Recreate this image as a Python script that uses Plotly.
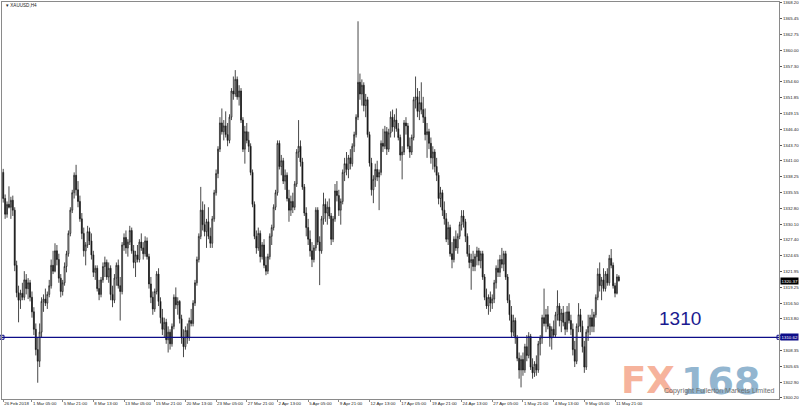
import plotly.graph_objects as go

# ---------------- data (XAUUSD, H4) ----------------
OPEN = [
1339.0,1334.5,1331.8,1333.5,1333.0,1334.2,1332.5,1323.0,1318.3,1317.0,
1318.2,1317.5,1320.5,1319.0,1320.0,1317.5,1315.0,1312.0,1308.5,1306.5,
1311.5,1316.8,1317.2,1316.5,1318.0,1319.5,1323.0,1322.0,1325.5,1324.0,
1320.8,1318.5,1320.0,1322.8,1325.0,1328.5,1332.5,1335.5,1338.5,1336.0,
1334.0,1331.0,1328.5,1325.5,1326.5,1328.8,1327.2,1324.8,1321.8,1322.5,
1319.0,1318.0,1320.5,1322.8,1323.5,1321.0,1322.5,1318.0,1317.0,1320.8,
1323.0,1319.5,1318.5,1326.5,1327.8,1326.0,1327.0,1329.0,1325.5,1323.5,
1324.8,1324.0,1327.0,1326.0,1325.0,1327.2,1324.5,1319.8,1317.5,1315.5,
1318.5,1321.5,1316.8,1314.0,1312.0,1313.2,1310.2,1311.5,1309.5,1312.5,
1317.5,1316.2,1316.8,1313.8,1310.5,1309.0,1311.8,1310.5,1313.5,1313.0,
1316.5,1320.0,1324.0,1328.0,1332.5,1330.0,1328.8,1330.5,1328.0,1326.8,
1331.0,1335.5,1338.8,1343.0,1347.5,1346.0,1347.0,1345.5,1344.5,1348.5,
1353.0,1352.5,1355.0,1352.0,1353.0,1348.0,1343.0,1346.0,1344.5,1343.5,
1339.0,1333.5,1328.0,1326.0,1328.5,1324.5,1326.5,1323.0,1322.0,1324.5,
1328.0,1329.5,1333.0,1335.5,1344.0,1340.0,1341.0,1337.5,1338.5,1334.5,
1332.5,1334.0,1333.0,1337.0,1342.5,1343.5,1340.8,1336.5,1332.0,1329.5,
1327.5,1325.5,1324.0,1326.0,1332.5,1327.0,1325.5,1331.0,1333.5,1332.0,
1333.0,1331.5,1327.5,1331.0,1335.8,1335.0,1332.5,1334.0,1339.0,1340.5,
1339.5,1341.5,1340.5,1343.5,1345.5,1348.5,1354.5,1352.5,1354.0,1350.5,
1351.5,1345.5,1340.6,1336.0,1337.8,1339.5,1338.2,1339.0,1344.0,1343.5,
1346.0,1343.0,1345.8,1348.5,1346.8,1348.0,1346.5,1345.0,1342.0,1342.5,
1347.5,1347.0,1343.5,1342.5,1345.0,1351.5,1352.0,1349.5,1351.0,1349.8,
1348.5,1345.5,1346.0,1344.0,1341.5,1342.5,1340.0,1338.5,1334.5,1335.5,
1332.5,1331.0,1327.5,1329.5,1325.0,1324.0,1327.5,1326.0,1328.0,1330.0,
1331.5,1330.5,1328.0,1325.0,1323.5,1324.0,1322.8,1324.5,1325.5,1323.8,
1325.0,1321.0,1317.5,1316.0,1317.5,1316.5,1317.2,1320.0,1322.5,1321.8,
1324.0,1323.2,1325.0,1321.0,1317.0,1314.5,1311.5,1313.5,1310.5,1307.0,
1305.0,1306.8,1305.0,1309.0,1307.5,1310.8,1305.5,1304.5,1306.0,1305.0,
1309.5,1310.5,1314.0,1313.0,1314.5,1312.5,1310.5,1312.0,1311.0,1314.5,
1316.0,1313.5,1314.8,1313.2,1312.0,1315.0,1313.5,1312.0,1308.5,1306.5,
1312.5,1314.5,1312.5,1309.0,1305.5,1311.5,1312.5,1314.0,1312.5,1314.5,
1317.5,1321.5,1319.5,1320.5,1319.0,1321.5,1320.0,1324.2,1323.0,1319.5,
1318.2,1321.0]

HIGH = [
1339.6,1335.2,1334.0,1336.6,1334.8,1335.0,1333.0,1323.8,1319.5,1318.8,
1320.0,1322.0,1321.5,1320.8,1320.5,1318.5,1315.8,1313.0,1310.5,1313.0,
1317.5,1318.0,1319.0,1318.5,1320.5,1324.0,1325.5,1326.8,1326.5,1325.0,
1321.5,1320.5,1323.5,1325.5,1329.0,1333.0,1336.0,1339.0,1340.3,1337.5,
1335.0,1332.0,1329.5,1327.0,1329.8,1329.5,1328.5,1325.5,1323.0,1323.0,
1320.5,1321.0,1323.5,1324.5,1324.0,1323.5,1323.0,1319.5,1321.5,1323.5,
1324.0,1321.0,1327.0,1328.5,1329.0,1327.5,1329.8,1329.5,1326.5,1325.5,
1326.5,1327.5,1328.5,1327.0,1328.0,1327.8,1325.0,1321.0,1318.5,1319.0,
1322.0,1322.5,1317.5,1315.5,1314.0,1313.8,1312.5,1312.0,1313.0,1318.0,
1319.2,1317.5,1317.0,1314.5,1312.0,1312.5,1313.0,1314.0,1315.5,1317.0,
1320.5,1324.5,1328.5,1336.5,1334.0,1333.5,1331.0,1333.0,1329.5,1331.5,
1336.0,1339.5,1343.5,1348.5,1350.0,1348.0,1349.5,1347.5,1349.0,1353.5,
1355.5,1356.6,1355.5,1354.0,1353.5,1348.5,1347.0,1347.5,1346.0,1344.0,
1339.5,1334.0,1329.0,1329.5,1329.0,1327.0,1327.5,1324.5,1325.0,1328.5,
1330.0,1333.5,1336.0,1344.5,1344.5,1342.0,1341.5,1339.5,1339.0,1336.0,
1335.0,1335.5,1337.5,1343.0,1348.0,1344.5,1341.5,1337.0,1333.0,1331.0,
1329.0,1327.0,1326.5,1333.0,1333.0,1328.0,1331.5,1335.5,1334.5,1334.0,
1334.5,1332.0,1331.5,1337.0,1337.5,1336.0,1334.5,1339.5,1341.5,1342.5,
1342.0,1343.0,1344.0,1346.0,1349.0,1365.0,1356.0,1355.0,1354.5,1352.5,
1352.0,1346.0,1341.5,1338.5,1340.5,1341.0,1339.5,1344.5,1346.5,1347.0,
1346.8,1346.5,1349.5,1349.8,1349.0,1350.0,1347.5,1345.5,1343.5,1348.0,
1348.5,1347.5,1345.0,1345.5,1352.0,1355.5,1353.5,1353.0,1354.5,1352.0,
1350.0,1347.5,1346.5,1345.0,1343.5,1343.0,1341.5,1339.0,1336.5,1336.0,
1334.0,1332.0,1330.5,1330.0,1327.0,1328.0,1329.0,1328.5,1330.5,1332.5,
1332.5,1331.0,1328.5,1326.5,1325.0,1325.5,1325.0,1326.2,1326.0,1325.5,
1325.5,1321.5,1319.0,1318.0,1318.5,1318.0,1320.5,1323.0,1324.0,1324.8,
1326.0,1325.5,1325.5,1321.5,1318.0,1316.0,1314.5,1314.0,1311.0,1308.0,
1307.5,1308.0,1309.5,1311.0,1311.5,1311.2,1307.0,1306.5,1307.5,1310.0,
1311.0,1314.5,1319.0,1315.5,1316.0,1313.0,1312.5,1313.5,1315.0,1318.7,
1316.5,1315.5,1316.0,1315.0,1316.0,1316.5,1314.5,1313.0,1310.0,1313.0,
1316.5,1315.5,1313.5,1310.0,1312.0,1314.5,1314.5,1315.5,1315.0,1318.0,
1322.5,1323.5,1321.0,1322.5,1322.0,1322.5,1324.8,1325.8,1323.5,1320.0,
1321.5,1321.3]

LOW = [
1333.8,1331.0,1331.2,1332.8,1331.0,1331.5,1322.0,1317.5,1313.2,1315.5,
1317.0,1317.0,1318.0,1317.2,1316.8,1314.0,1311.0,1307.5,1302.8,1305.5,
1310.5,1315.0,1316.0,1315.5,1317.5,1319.0,1321.5,1321.8,1323.0,1320.0,
1317.5,1317.8,1319.5,1321.8,1324.5,1328.0,1332.0,1334.5,1335.0,1333.0,
1330.5,1327.5,1324.5,1323.0,1326.0,1326.5,1324.0,1321.0,1320.5,1318.5,
1317.0,1317.5,1320.0,1321.0,1320.5,1320.0,1317.0,1315.8,1316.5,1319.5,
1319.0,1313.5,1318.0,1325.5,1325.0,1324.5,1326.5,1325.0,1322.5,1321.0,
1323.5,1323.5,1325.5,1324.0,1324.5,1324.0,1319.0,1316.5,1314.5,1315.0,
1318.0,1316.0,1313.0,1311.0,1310.5,1309.5,1308.0,1308.5,1309.0,1312.0,
1315.5,1314.5,1313.0,1309.5,1307.2,1308.5,1309.5,1310.0,1312.5,1312.5,
1316.0,1319.5,1323.5,1327.5,1329.0,1328.0,1326.0,1327.5,1326.0,1326.0,
1330.5,1335.0,1338.0,1342.5,1345.5,1344.5,1345.0,1343.5,1344.0,1348.0,
1351.5,1352.0,1351.5,1350.5,1347.5,1342.5,1340.5,1344.0,1342.5,1338.5,
1333.0,1327.5,1325.0,1325.5,1323.5,1324.0,1322.5,1321.3,1321.5,1324.0,
1326.5,1329.0,1332.5,1335.0,1339.5,1338.5,1337.0,1336.0,1334.0,1330.5,
1331.5,1332.0,1332.5,1336.5,1341.5,1340.0,1336.0,1331.5,1328.0,1326.5,
1324.5,1322.7,1323.5,1325.5,1326.5,1319.6,1325.0,1330.0,1330.5,1330.0,
1331.0,1326.5,1327.0,1330.5,1334.0,1331.5,1330.0,1333.5,1337.5,1338.5,
1338.0,1339.5,1340.0,1342.5,1345.0,1348.0,1351.5,1350.5,1349.5,1348.5,
1345.0,1340.0,1335.0,1333.7,1336.5,1337.5,1332.5,1338.5,1342.5,1343.0,
1342.0,1342.5,1345.0,1346.0,1345.0,1346.0,1344.5,1341.0,1337.8,1342.0,
1345.5,1343.0,1341.5,1342.0,1344.5,1350.0,1348.5,1348.0,1349.0,1347.5,
1344.5,1341.5,1343.0,1340.5,1339.5,1339.0,1337.5,1333.5,1333.0,1331.5,
1330.0,1327.0,1326.5,1324.5,1322.5,1323.5,1325.5,1325.0,1327.5,1329.0,
1329.5,1327.0,1324.5,1322.5,1318.8,1322.0,1322.0,1323.0,1323.0,1322.5,
1320.5,1317.0,1315.5,1314.5,1315.0,1315.5,1316.5,1319.0,1321.0,1321.0,
1322.5,1322.0,1320.5,1316.5,1313.5,1310.5,1310.8,1309.5,1306.5,1303.5,
1302.0,1304.0,1304.5,1306.5,1307.0,1305.0,1303.5,1303.8,1304.0,1304.5,
1307.5,1309.5,1312.5,1311.5,1312.0,1309.0,1308.5,1310.5,1310.5,1313.5,
1312.5,1311.5,1312.5,1311.0,1311.5,1313.0,1311.0,1307.5,1305.5,1306.0,
1311.5,1311.5,1308.0,1304.5,1305.0,1310.0,1311.0,1311.5,1311.5,1314.0,
1317.0,1318.5,1317.0,1318.5,1318.5,1319.5,1319.5,1322.5,1319.0,1317.5,
1318.0,1320.2]

CLOSE = [
1334.5,1331.8,1333.5,1333.0,1334.2,1332.5,1323.0,1318.3,1317.0,1318.2,
1317.5,1320.5,1319.0,1320.0,1317.5,1315.0,1312.0,1308.5,1306.5,1311.5,
1316.8,1317.2,1316.5,1318.0,1319.5,1323.0,1322.0,1325.5,1324.0,1320.8,
1318.5,1320.0,1322.8,1325.0,1328.5,1332.5,1335.5,1338.5,1336.0,1334.0,
1331.0,1328.5,1325.5,1326.5,1328.8,1327.2,1324.8,1321.8,1322.5,1319.0,
1318.0,1320.5,1322.8,1323.5,1321.0,1322.5,1318.0,1317.0,1320.8,1323.0,
1319.5,1318.5,1326.5,1327.8,1326.0,1327.0,1329.0,1325.5,1323.5,1324.8,
1324.0,1327.0,1326.0,1325.0,1327.2,1324.5,1319.8,1317.5,1315.5,1318.5,
1321.5,1316.8,1314.0,1312.0,1313.2,1310.2,1311.5,1309.5,1312.5,1317.5,
1316.2,1316.8,1313.8,1310.5,1309.0,1311.8,1310.5,1313.5,1313.0,1316.5,
1320.0,1324.0,1328.0,1332.5,1330.0,1328.8,1330.5,1328.0,1326.8,1331.0,
1335.5,1338.8,1343.0,1347.5,1346.0,1347.0,1345.5,1344.5,1348.5,1353.0,
1352.5,1355.0,1352.0,1353.0,1348.0,1343.0,1346.0,1344.5,1343.5,1339.0,
1333.5,1328.0,1326.0,1328.5,1324.5,1326.5,1323.0,1322.0,1324.5,1328.0,
1329.5,1333.0,1335.5,1344.0,1340.0,1341.0,1337.5,1338.5,1334.5,1332.5,
1334.0,1333.0,1337.0,1342.5,1343.5,1340.8,1336.5,1332.0,1329.5,1327.5,
1325.5,1324.0,1326.0,1332.5,1327.0,1325.5,1331.0,1333.5,1332.0,1333.0,
1331.5,1327.5,1331.0,1335.8,1335.0,1332.5,1334.0,1339.0,1340.5,1339.5,
1341.5,1340.5,1343.5,1345.5,1348.5,1354.5,1352.5,1354.0,1350.5,1351.5,
1345.5,1340.6,1336.0,1337.8,1339.5,1338.2,1339.0,1344.0,1343.5,1346.0,
1343.0,1345.8,1348.5,1346.8,1348.0,1346.5,1345.0,1342.0,1342.5,1347.5,
1347.0,1343.5,1342.5,1345.0,1351.5,1352.0,1349.5,1351.0,1349.8,1348.5,
1345.5,1346.0,1344.0,1341.5,1342.5,1340.0,1338.5,1334.5,1335.5,1332.5,
1331.0,1327.5,1329.5,1325.0,1324.0,1327.5,1326.0,1328.0,1330.0,1331.5,
1330.5,1328.0,1325.0,1323.5,1324.0,1322.8,1324.5,1325.5,1323.8,1325.0,
1321.0,1317.5,1316.0,1317.5,1316.5,1317.2,1320.0,1322.5,1321.8,1324.0,
1323.2,1325.0,1321.0,1317.0,1314.5,1311.5,1313.5,1310.5,1307.0,1305.0,
1306.8,1305.0,1309.0,1307.5,1310.8,1305.5,1304.5,1306.0,1305.0,1309.5,
1310.5,1314.0,1313.0,1314.5,1312.5,1310.5,1312.0,1311.0,1314.5,1316.0,
1313.5,1314.8,1313.2,1312.0,1315.0,1313.5,1312.0,1308.5,1306.5,1312.5,
1314.5,1312.5,1309.0,1305.5,1311.5,1312.5,1314.0,1312.5,1314.5,1317.5,
1321.5,1319.5,1320.5,1319.0,1321.5,1320.0,1324.2,1323.0,1319.5,1318.2,
1321.0,1320.37]

X_LABEL_BARS = [0, 15, 31, 47, 63, 79, 95, 111, 127, 143, 159, 175, 191,
                207, 223, 239, 255, 271, 287, 303, 319]
X_LABELS = ["26 Feb 2018", "1 Mar 05:00", "5 Mar 21:00", "8 Mar 13:00",
            "13 Mar 05:00", "15 Mar 21:00", "20 Mar 13:00", "23 Mar 05:00",
            "27 Mar 21:00", "2 Apr 13:00", "5 Apr 05:00", "9 Apr 21:00",
            "12 Apr 13:00", "17 Apr 05:00", "19 Apr 21:00", "24 Apr 13:00",
            "27 Apr 05:00", "1 May 21:00", "4 May 13:00", "9 May 05:00",
            "11 May 21:00"]

Y_TICKS = [1368.20, 1365.45, 1362.75, 1360.00, 1357.30, 1354.60, 1351.85,
           1349.15, 1346.40, 1343.70, 1341.00, 1338.25, 1335.55, 1332.80,
           1330.10, 1327.40, 1324.65, 1321.95, 1319.25, 1316.50, 1313.80,
           1308.35, 1305.65, 1302.90, 1300.20]

LEVEL = 1310.62
LEVEL_TEXT = "1310"
LAST_PRICE = 1320.37
SYMBOL = "XAUUSD,H4"

# ---------------- figure ----------------
BARS = list(range(len(CLOSE)))
X_RANGE = [-0.63, 404.5]
Y_RANGE = [1300.0, 1368.32]
NAVY = "#0d0d88"
TXT = "#222222"
FONT = "Liberation Sans"

fig = go.Figure()

fig.add_trace(go.Candlestick(
    x=BARS, open=OPEN, high=HIGH, low=LOW, close=CLOSE,
    increasing=dict(line=dict(color="#1a1a1a", width=0.8), fillcolor="#ffffff"),
    decreasing=dict(line=dict(color="#1a1a1a", width=0.8), fillcolor="#000000"),
    whiskerwidth=0, hoverinfo="skip", showlegend=False,
))

# horizontal level line with end handles
fig.add_trace(go.Scatter(
    x=X_RANGE, y=[LEVEL, LEVEL], mode="lines+markers",
    line=dict(color=NAVY, width=1.3),
    marker=dict(symbol="square-open", size=4, color=NAVY, line=dict(width=1, color=NAVY)),
    cliponaxis=False, hoverinfo="skip", showlegend=False,
))

ann = []
ann.append(dict(xref="paper", yref="paper", x=0.002, y=0.992, xanchor="left", yanchor="middle",
                text="▾ " + SYMBOL, showarrow=False,
                font=dict(family=FONT, size=4.6, color=TXT)))
ann.append(dict(xref="x", yref="y", x=352.9, y=1313.9, xanchor="center", yanchor="middle",
                text=LEVEL_TEXT, showarrow=False,
                font=dict(family=FONT, size=19, color="#1a1a90")))
# price boxes on the axis
ann.append(dict(xref="paper", yref="y", x=1.0, y=LAST_PRICE, xanchor="left", yanchor="middle",
                xshift=1, text=f"{LAST_PRICE:.2f}", showarrow=False, bgcolor="#000000",
                borderpad=0.5, font=dict(family=FONT, size=4.4, color="#ffffff")))
ann.append(dict(xref="paper", yref="y", x=1.0, y=LEVEL, xanchor="left", yanchor="middle",
                xshift=1, text=f"{LEVEL:.2f}", showarrow=False, bgcolor=NAVY,
                borderpad=0.5, font=dict(family=FONT, size=4.4, color="#ffffff")))
# watermark
ann.append(dict(xref="x", yref="y", x=351.5, y=1303.1, xanchor="right", yanchor="middle",
                text="<b>FX</b>", showarrow=False,
                font=dict(family="DejaVu Sans", size=37, color="#f6b39c")))
ann.append(dict(xref="x", yref="y", x=352.6, y=1303.1, xanchor="left", yanchor="middle",
                text="<b>168</b>", showarrow=False,
                font=dict(family="DejaVu Sans", size=38, color="#93b6d0")))
ann.append(dict(xref="x", yref="y", x=403.6, y=1301.3, xanchor="right", yanchor="middle",
                text="Copyright Fullerton Markets Limited", showarrow=False,
                font=dict(family=FONT, size=7, color="#6e6e6e")))

fig.update_layout(
    width=800, height=409,
    margin=dict(l=2, r=21, t=2, b=10, autoexpand=False),
    paper_bgcolor="#ffffff", plot_bgcolor="#ffffff",
    showlegend=False, annotations=ann,
    xaxis=dict(
        range=X_RANGE, rangeslider=dict(visible=False), showgrid=False, zeroline=False,
        automargin=False, tickangle=0,
        showline=True, linecolor="#8a8a8a", linewidth=1, mirror=True,
        tickmode="array", tickvals=X_LABEL_BARS, ticktext=X_LABELS,
        ticks="outside", ticklen=2, tickcolor="#8a8a8a",
        ticklabelposition="outside right", ticklabelstandoff=0,
        tickfont=dict(family=FONT, size=4.4, color=TXT),
    ),
    yaxis=dict(
        side="right", range=Y_RANGE, showgrid=False, zeroline=False,
        automargin=False,
        showline=True, linecolor="#8a8a8a", linewidth=1, mirror=True,
        tickmode="array", tickvals=Y_TICKS, ticktext=[f"{v:.2f}" for v in Y_TICKS],
        ticks="outside", ticklen=2, tickcolor="#555555", ticklabelstandoff=0,
        tickfont=dict(family=FONT, size=4.4, color=TXT),
    ),
)

fig.write_html("out.html", config={"displayModeBar": False},
               post_script="document.body.style.margin='0';document.body.style.overflow='hidden';")
